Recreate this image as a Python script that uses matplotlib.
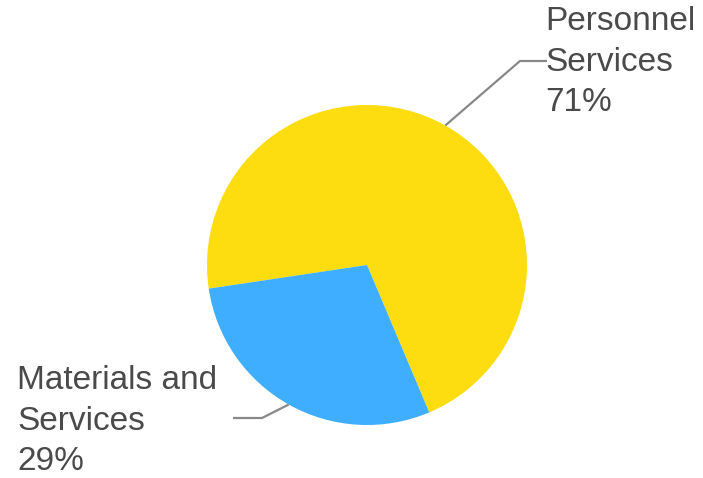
import numpy as np
import matplotlib.pyplot as plt

# budget share by category
categories = ['Personnel\nServices', 'Materials and\nServices']
shares = [71, 29]
colors = ['#FDDD10', '#40AEFF']

W, H = 703, 478
fig = plt.figure(figsize=(W / 100, H / 100), dpi=100)
ax = fig.add_axes([0, 0, 1, 0.999999])

cx, cy, r = 367, H - 265, 160
wedges, _ = ax.pie(shares, colors=colors, startangle=292.9, counterclock=True,
                   center=(cx, cy), radius=r, frame=True,
                   wedgeprops={'linewidth': 0})
ax.set_xlim(0, W)
ax.set_ylim(0, H)
ax.axis('off')

# label positions (elbow, line end, text anchor) in pixels from top-left
layout = [
    {'elbow': (520, 61), 'end': (547, 61), 'text': (545, 62)},
    {'elbow': (262, 418), 'end': (233, 418), 'text': (17, 421)},
]

for w, cat, val, lay in zip(wedges, categories, shares, layout):
    mid = np.deg2rad((w.theta1 + w.theta2) / 2)
    x0, y0 = cx + r * np.cos(mid), cy + r * np.sin(mid)
    ex, ey = lay['elbow']
    tx, ty = lay['end']
    ax.plot([x0, ex, tx], [y0, H - ey, H - ty], color='#888888', lw=1.6,
            solid_capstyle='butt')
    ax.text(lay['text'][0], H - lay['text'][1], f'{cat}\n{val}%',
            ha='left', va='center', fontsize=24, color='#4a4a4a',
            family='Liberation Sans', linespacing=1.4)

fig.savefig('out.png', dpi=100)
